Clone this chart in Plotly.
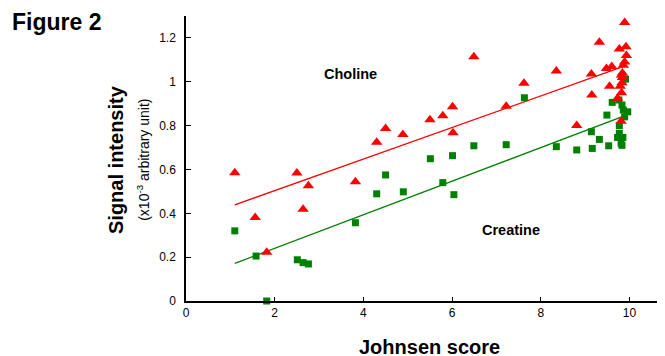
import numpy as np
import plotly.graph_objects as go

# Choline (red triangles)
choline_x = [1.1, 1.56, 1.82, 2.5, 2.64, 2.76, 3.82, 4.3, 4.5, 4.89, 5.5, 5.79, 6.01, 6.02,
             6.49, 7.22, 7.62, 8.35, 8.81, 9.14, 9.15, 9.32, 9.48, 9.6, 9.55, 9.77, 9.92,
             9.93, 9.89, 9.89, 9.86, 9.84, 9.82, 9.84, 9.83, 9.79, 9.82, 9.73, 9.81]
choline_y = [0.585, 0.381, 0.222, 0.584, 0.418, 0.526, 0.544, 0.724, 0.787, 0.760, 0.827,
             0.845, 0.886, 0.768, 1.114, 0.888, 0.993, 1.049, 0.80, 1.035, 0.94, 1.18,
             1.06, 1.07, 0.98, 1.15, 1.16, 1.12, 1.09, 1.27, 1.075, 1.04, 1.03, 1.02,
             0.995, 0.98, 0.95, 0.925, 0.82]

# Creatine (green squares)
creatine_x = [1.1, 1.58, 1.82, 2.51, 2.64, 2.76, 3.82, 4.3, 4.5, 4.9, 5.51, 5.79, 6.01, 6.04,
              6.49, 7.22, 7.63, 8.35, 8.81, 9.14, 9.16, 9.32, 9.49, 9.53, 9.61, 9.76, 9.83,
              9.86, 9.96, 9.89, 9.77, 9.77, 9.73, 9.85, 9.81, 9.83, 9.91]
creatine_y = [0.32, 0.205, 0.0, 0.188, 0.175, 0.169, 0.357, 0.489, 0.575, 0.498, 0.649,
              0.54, 0.663, 0.485, 0.708, 0.713, 0.927, 0.704, 0.689, 0.772, 0.696, 0.737,
              0.848, 0.708, 0.906, 0.917, 0.894, 0.871, 0.863, 0.84, 0.80, 0.765, 0.746,
              0.746, 0.72, 0.71, 1.012]

x_ticks = [0, 2, 4, 6, 8, 10]
y_ticks = [0, 0.2, 0.4, 0.6, 0.8, 1.0, 1.2]
y_tick_text = ["0", "0.2", "0.4", "0.6", "0.8", "1", "1.2"]

RED = "#FF0000"
GREEN = "#008000"


def fit_line(xs, ys):
    xs = np.asarray(xs)
    ys = np.asarray(ys)
    m, b = np.polyfit(xs, ys, 1)
    lx = np.array([xs.min(), xs.max()])
    return lx, m * lx + b


fig = go.Figure()

cx, cy = fit_line(choline_x, choline_y)
gx, gy = fit_line(creatine_x, creatine_y)

fig.add_trace(go.Scatter(x=cx, y=cy, mode="lines", line=dict(color=RED, width=1.3),
                         showlegend=False, hoverinfo="skip"))
fig.add_trace(go.Scatter(x=gx, y=gy, mode="lines", line=dict(color=GREEN, width=1.3),
                         showlegend=False, hoverinfo="skip"))
fig.add_trace(go.Scatter(x=creatine_x, y=creatine_y, mode="markers", name="Creatine",
                         marker=dict(symbol="square", size=7, color=GREEN),
                         showlegend=False, cliponaxis=False))
fig.add_trace(go.Scatter(x=choline_x, y=choline_y, mode="markers", name="Choline",
                         marker=dict(symbol="triangle-up", size=10, color=RED),
                         showlegend=False, cliponaxis=False))

tick_font = dict(family="Liberation Sans, Arial", size=12, color="black")

fig.update_layout(
    width=657, height=348,
    margin=dict(l=178, r=0, t=8, b=55, pad=0),
    paper_bgcolor="white", plot_bgcolor="white",
    font=dict(family="Liberation Sans, Arial, sans-serif", color="black"),
    xaxis=dict(range=[0, 10.8], tickvals=x_ticks, ticks="inside", ticklen=4,
               tickcolor="black", showline=True, linecolor="black", linewidth=1.5,
               showgrid=False, zeroline=False, tickfont=tick_font, automargin=False),
    yaxis=dict(range=[0, 1.3], tickvals=y_ticks, ticktext=y_tick_text, ticks="inside",
               ticklen=5, tickcolor="black", showline=True, linecolor="black",
               linewidth=1.5, showgrid=False, zeroline=False, tickfont=tick_font,
               ticklabelstandoff=6, automargin=False),
    annotations=[
        dict(text="<b>Figure 2</b>", xref="paper", yref="paper", x=-0.367, y=0.979,
             xanchor="left", yanchor="middle", showarrow=False,
             font=dict(size=23)),
        dict(text="<b>Johnsen score</b>", xref="paper", yref="paper", x=0.509,
             y=-0.1615, xanchor="center", yanchor="middle", showarrow=False,
             font=dict(size=20)),
        dict(text="<b>Signal intensity</b>", xref="paper", yref="paper", x=-0.146,
             y=0.495, textangle=-90, xanchor="center", yanchor="middle",
             showarrow=False, font=dict(size=20)),
        dict(text="(x10<sup>-3</sup> arbitrary unit)", xref="paper", yref="paper",
             x=-0.09, y=0.495, textangle=-90, xanchor="center", yanchor="middle",
             showarrow=False, font=dict(size=14)),
        dict(text="<b>Choline</b>", x=3.72, y=1.034, xref="x", yref="y",
             showarrow=False, font=dict(size=14.5)),
        dict(text="<b>Creatine</b>", x=7.33, y=0.324, xref="x", yref="y",
             showarrow=False, font=dict(size=14.5)),
    ],
)

fig.write_html("out.html")
